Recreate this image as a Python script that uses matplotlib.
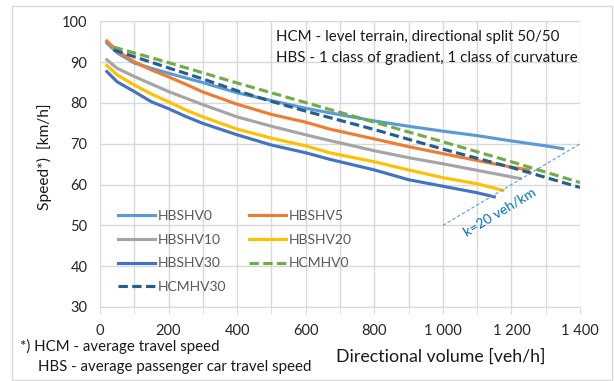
import matplotlib.pyplot as plt
from matplotlib.patches import Rectangle

plt.rcParams['font.family'] = ['Lato', 'DejaVu Sans']

# speed curves (volume in veh/h, speed in km/h)
hbs0_v = [20, 50, 100, 150, 200, 300, 400, 500, 600, 670, 800, 900, 1000, 1100, 1200, 1300, 1350]
hbs0_s = [94.7, 92.3, 89.8, 88.5, 87.3, 85.0, 82.5, 80.6, 78.7, 77.6, 75.6, 74.3, 73.1, 72.0, 70.7, 69.5, 68.8]

hbs5_v = [20, 50, 100, 150, 200, 250, 300, 400, 500, 600, 670, 800, 900, 1000, 1100, 1200, 1250]
hbs5_s = [95.2, 92.8, 90.1, 88.1, 86.4, 84.6, 82.7, 79.7, 77.2, 75.3, 73.6, 71.2, 69.3, 67.6, 65.9, 64.3, 63.6]

hbs10_v = [20, 50, 100, 200, 250, 300, 400, 500, 600, 670, 800, 900, 1000, 1100, 1225]
hbs10_s = [90.6, 88.5, 86.5, 82.8, 81.2, 79.6, 76.6, 74.3, 72.2, 70.8, 68.3, 66.6, 65.1, 63.5, 61.5]

hbs20_v = [20, 50, 100, 150, 200, 250, 300, 400, 500, 600, 670, 800, 900, 1000, 1100, 1175]
hbs20_s = [89.2, 86.9, 84.4, 82.2, 80.3, 78.3, 76.6, 73.6, 71.4, 69.5, 67.8, 65.6, 63.6, 61.7, 60.2, 58.6]

hbs30_v = [20, 50, 100, 150, 200, 250, 300, 400, 500, 600, 670, 800, 900, 1000, 1100, 1150]
hbs30_s = [87.7, 85.2, 82.8, 80.3, 78.6, 76.7, 75.0, 72.2, 69.7, 67.8, 66.2, 63.6, 61.2, 59.6, 58.0, 57.0]

hcm0_v = [40, 200, 300, 400, 500, 600, 800, 1000, 1200, 1400]
hcm0_s = [93.7, 89.9, 87.4, 84.9, 82.5, 80.1, 75.3, 70.5, 65.6, 60.5]

hcm30_v = [40, 200, 300, 400, 500, 600, 800, 1000, 1200, 1400]
hcm30_s = [93.0, 88.6, 85.9, 83.0, 80.4, 78.0, 73.5, 68.7, 64.2, 59.3]

# density line k = 20 veh/km
k_v = [1000, 1400]
k_s = [50, 70]

x_ticks = [0, 200, 400, 600, 800, 1000, 1200, 1400]
x_labels = ['0', '200', '400', '600', '800', '1 000', '1 200', '1 400']
y_ticks = [30, 40, 50, 60, 70, 80, 90, 100]

fig = plt.figure(figsize=(6.14, 3.81), dpi=100)
ax = fig.add_axes([100 / 614, 74 / 381, 480 / 614, 285.6 / 381])

lw = 2.25
dash = (3, 1.4)
l0, = ax.plot(hbs0_v, hbs0_s, color='#5B9BD5', lw=lw, label='HBSHV0')
l5, = ax.plot(hbs5_v, hbs5_s, color='#ED7D31', lw=lw, label='HBSHV5')
l10, = ax.plot(hbs10_v, hbs10_s, color='#A5A5A5', lw=lw, label='HBSHV10')
l20, = ax.plot(hbs20_v, hbs20_s, color='#FFC000', lw=lw, label='HBSHV20')
l30, = ax.plot(hbs30_v, hbs30_s, color='#4472C4', lw=lw, label='HBSHV30')
h0, = ax.plot(hcm0_v, hcm0_s, color='#70AD47', lw=lw, dashes=dash, label='HCMHV0')
h30, = ax.plot(hcm30_v, hcm30_s, color='#255E91', lw=lw, dashes=dash, label='HCMHV30')

ax.plot(k_v, k_s, color='#5B9BD5', lw=0.8, dashes=(3, 2))
ax.text(1165, 53.3, 'k=20 veh/km', color='#0070C0', fontsize=10,
        rotation=31, ha='center', va='center')

ax.set_xlim(0, 1400)
ax.set_ylim(30, 100)
ax.set_xticks(x_ticks)
ax.set_xticklabels(x_labels)
ax.set_xticks(range(100, 1400, 200), minor=True)
ax.set_yticks(y_ticks)
ax.grid(True, which='both', color='#D9D9D9', lw=1)
ax.set_axisbelow(True)
for sp in ['top', 'right', 'left']:
    ax.spines[sp].set_visible(False)
ax.spines['bottom'].set_color('#D9D9D9')
ax.tick_params(axis='x', which='both', direction='out', length=5, color='#D9D9D9',
               labelsize=10.5, labelcolor='#262626', pad=7)
ax.tick_params(axis='y', length=0, labelsize=10.5, labelcolor='#262626', pad=9)

# legend filled column-wise so rows read HBSHV0/HBSHV5, HBSHV10/HBSHV20, ...
handles = [l0, l10, l30, h30, l5, l20, h0]
ax.legend(handles=handles, labels=[h.get_label() for h in handles], ncol=2,
          loc='upper left', bbox_to_anchor=(0.012, 0.383), frameon=False,
          fontsize=10, labelcolor='#595959', handlelength=2.66, handletextpad=0.2,
          columnspacing=1.6, labelspacing=0.84)

fig.text(276 / 614, 1 - 37 / 381, 'HCM - level terrain, directional split 50/50',
         fontsize=10.9, va='center', color='#1a1a1a')
fig.text(276 / 614, 1 - 58 / 381, 'HBS - 1 class of gradient, 1 class of curvature',
         fontsize=10.9, va='center', color='#1a1a1a')

fig.text(44 / 614, 1 - 157 / 381, 'Speed*)  [km/h]', rotation=90, fontsize=11.2,
         ha='center', va='center', color='#1a1a1a')
fig.text(441 / 614, 1 - 357 / 381, 'Directional volume [veh/h]', fontsize=12.8,
         ha='center', va='center', color='#1a1a1a')
fig.text(20 / 614, 1 - 346 / 381, '*) HCM - average travel speed', fontsize=10.8,
         va='center', color='#1a1a1a')
fig.text(38 / 614, 1 - 367 / 381, 'HBS - average passenger car travel speed', fontsize=10.8,
         va='center', color='#1a1a1a')

# chart border
fig.patches.append(Rectangle((12 / 614, 1 / 381), 600 / 614, 374 / 381,
                             transform=fig.transFigure, fill=False,
                             edgecolor='#D9D9D9', lw=1))

fig.savefig('out.png', dpi=100)
